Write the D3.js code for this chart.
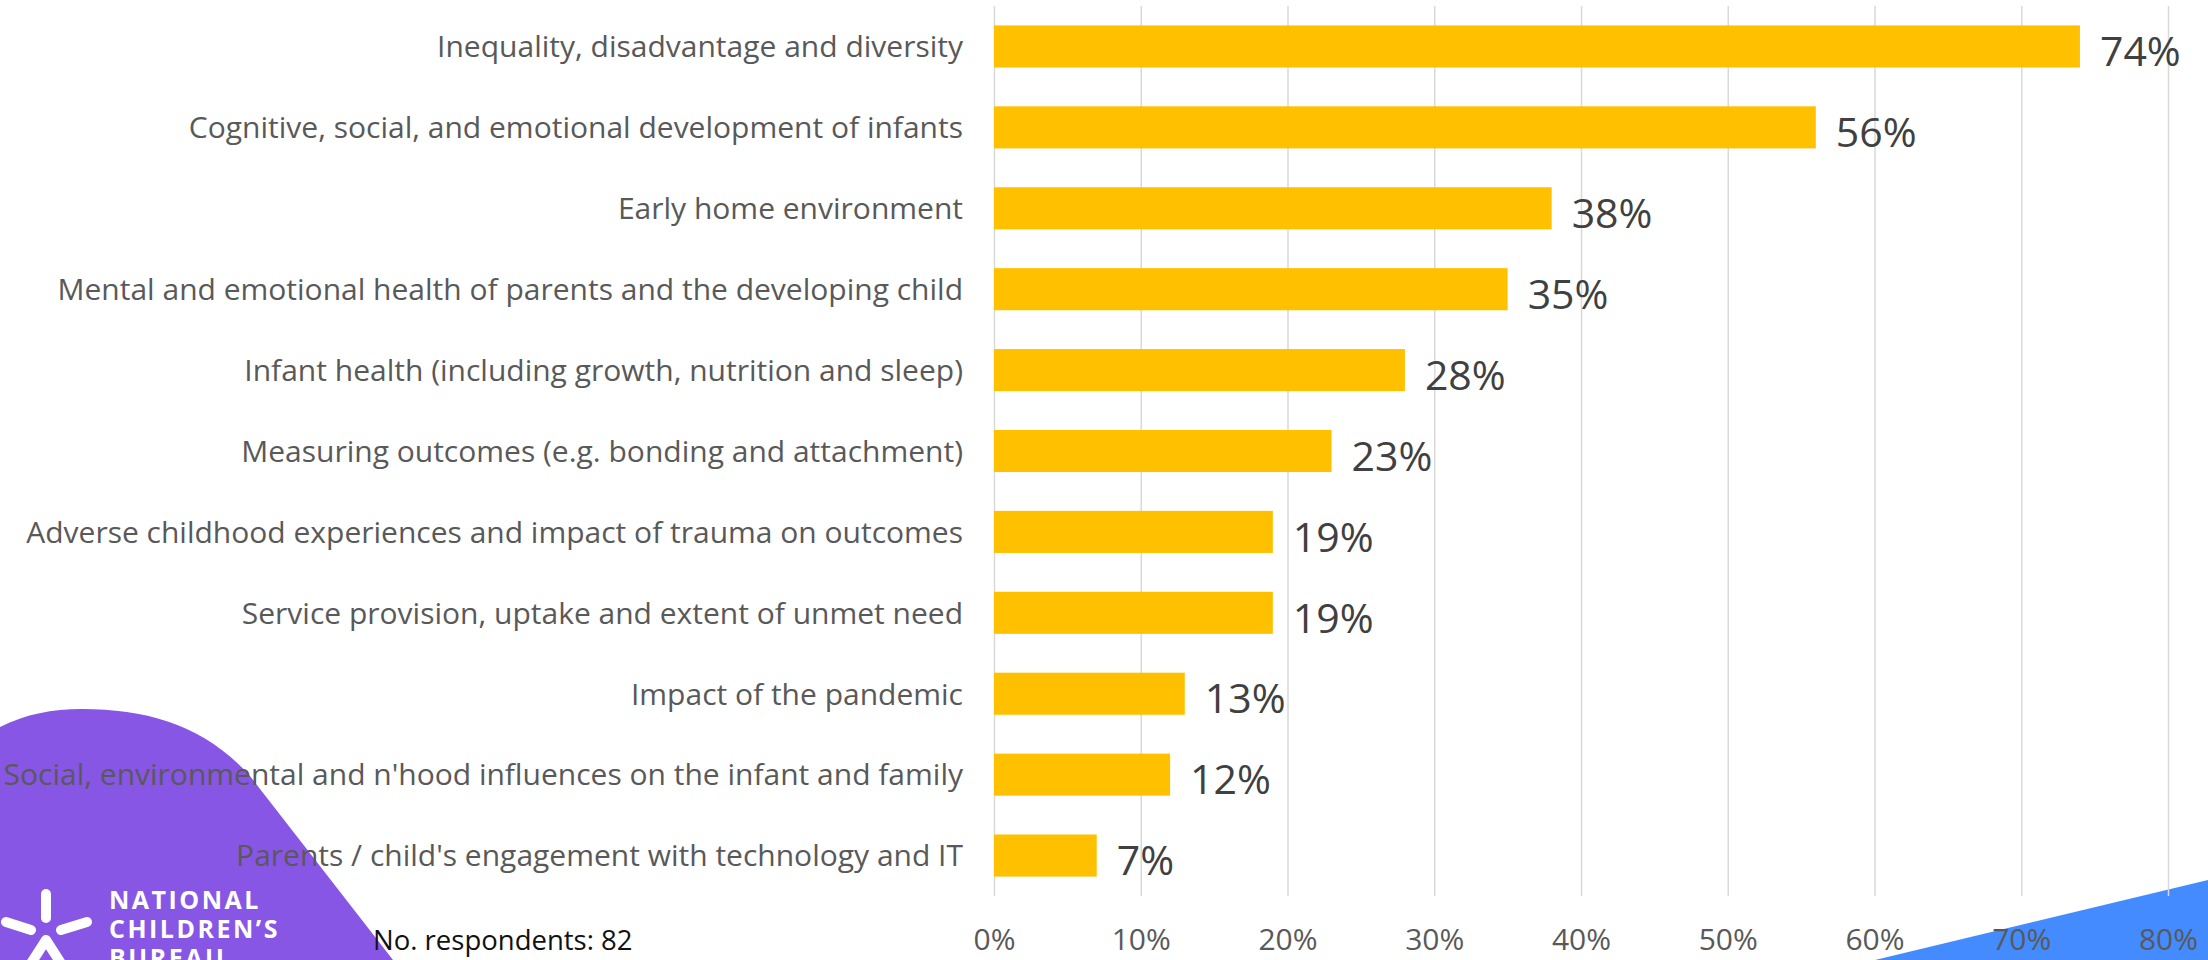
<!DOCTYPE html>
<html>
<head>
<meta charset="utf-8">
<script src="https://cdn.jsdelivr.net/npm/d3@7"></script>
<style>
  html, body { margin: 0; padding: 0; background: #ffffff; }
  svg { display: block; }
</style>
</head>
<body>
<svg id="chart" width="2208" height="960"></svg>
<script>
// Research priorities named by respondents (share of respondents)
const categories = [
  "Inequality, disadvantage and diversity",
  "Cognitive, social, and emotional development of infants",
  "Early home environment",
  "Mental and emotional health of parents and the developing child",
  "Infant health (including growth, nutrition and sleep)",
  "Measuring outcomes (e.g. bonding and attachment)",
  "Adverse childhood experiences and impact of trauma on outcomes",
  "Service provision, uptake and extent of unmet need",
  "Impact of the pandemic",
  "Social, environmental and n'hood influences on the infant and family",
  "Parents / child's engagement with technology and IT"
];
const shares = [0.74, 0.56, 0.38, 0.35, 0.28, 0.23, 0.19, 0.19, 0.13, 0.12, 0.07];
const xTicks = [0, 0.1, 0.2, 0.3, 0.4, 0.5, 0.6, 0.7, 0.8];
const respondents = 82;
const logoLines = ["NATIONAL", "CHILDREN\u2019S", "BUREAU"];

const W = 2208, H = 960;
const plot = { left: 994, right: 2168, top: 6, bottom: 896 };
const FONT = "'Open Sans', 'Noto Sans', sans-serif";

const svg = d3.select("#chart");

// Decorative brand shapes behind the chart
svg.append("path")
  .attr("d", "M0,727 C26,714 52,709 82,709 C150,709 206,727 250,776 L393,960 L0,960 Z")
  .attr("fill", "#8856E4");
svg.append("path")
  .attr("d", "M1875,960 L2208,880 L2208,960 Z")
  .attr("fill", "#448BFF");

const x = d3.scaleLinear().domain([0, 0.8]).range([plot.left, plot.right]);
const y = d3.scaleBand().domain(categories).range([plot.top, plot.bottom])
  .paddingInner(0.48).paddingOuter(0.24);

// Vertical gridlines and percentage labels
const xAxis = svg.append("g")
  .attr("transform", `translate(0,${plot.bottom})`)
  .call(d3.axisBottom(x)
    .tickValues(xTicks)
    .tickFormat(d3.format(".0%"))
    .tickSize(-(plot.bottom - plot.top))
    .tickPadding(33));
xAxis.select(".domain").remove();
xAxis.selectAll(".tick line").attr("stroke", "#d9d9d9").attr("stroke-width", 1.5);
xAxis.selectAll(".tick text")
  .attr("fill", "#595959")
  .style("font-family", FONT)
  .style("font-size", "30px");

// Category labels
const yAxis = svg.append("g")
  .attr("transform", `translate(${plot.left},0)`)
  .call(d3.axisLeft(y).tickSize(0).tickPadding(31));
yAxis.select(".domain").remove();
yAxis.selectAll(".tick text")
  .attr("fill", "#595959")
  .attr("dy", "0.36em")
  .style("font-family", FONT)
  .style("font-size", "30px");

// Bars
svg.append("g").selectAll("rect")
  .data(categories)
  .join("rect")
  .attr("x", x(0))
  .attr("y", d => y(d))
  .attr("width", (d, i) => x(shares[i]) - x(0))
  .attr("height", y.bandwidth())
  .attr("fill", "#FFC000");

// Value labels
svg.append("g").selectAll("text")
  .data(categories)
  .join("text")
  .attr("x", (d, i) => x(shares[i]) + 20)
  .attr("y", d => y(d) + y.bandwidth() / 2 + 5)
  .attr("dy", "0.36em")
  .attr("fill", "#404040")
  .style("font-family", FONT)
  .style("font-size", "41px")
  .text((d, i) => d3.format(".0%")(shares[i]));

// Respondent count note
svg.append("text")
  .attr("x", 373)
  .attr("y", 950)
  .attr("fill", "#111111")
  .style("font-family", FONT)
  .style("font-size", "27.5px")
  .text(`No. respondents: ${respondents}`);

// Logo mark and wordmark
const logo = svg.append("g");
const stroke = { stroke: "#ffffff", "stroke-width": 10, "stroke-linecap": "round", fill: "none" };
const seg = (x1, y1, x2, y2) => {
  const l = logo.append("line").attr("x1", x1).attr("y1", y1).attr("x2", x2).attr("y2", y2);
  Object.entries(stroke).forEach(([k, v]) => l.attr(k, v));
};
seg(46, 894, 46, 918);
seg(6, 922, 31, 930);
seg(61, 930, 87, 922);
const tent = logo.append("path").attr("d", "M28,968 L46,940 L64,968");
Object.entries(stroke).forEach(([k, v]) => tent.attr(k, v));
tent.attr("stroke-linejoin", "round");

logo.selectAll("text")
  .data(logoLines)
  .join("text")
  .attr("x", 109)
  .attr("y", (d, i) => 909 + i * 29)
  .attr("fill", "#ffffff")
  .style("font-family", FONT)
  .style("font-weight", "700")
  .style("font-size", "25px")
  .style("letter-spacing", "2.5px")
  .text(d => d);
</script>
</body>
</html>
